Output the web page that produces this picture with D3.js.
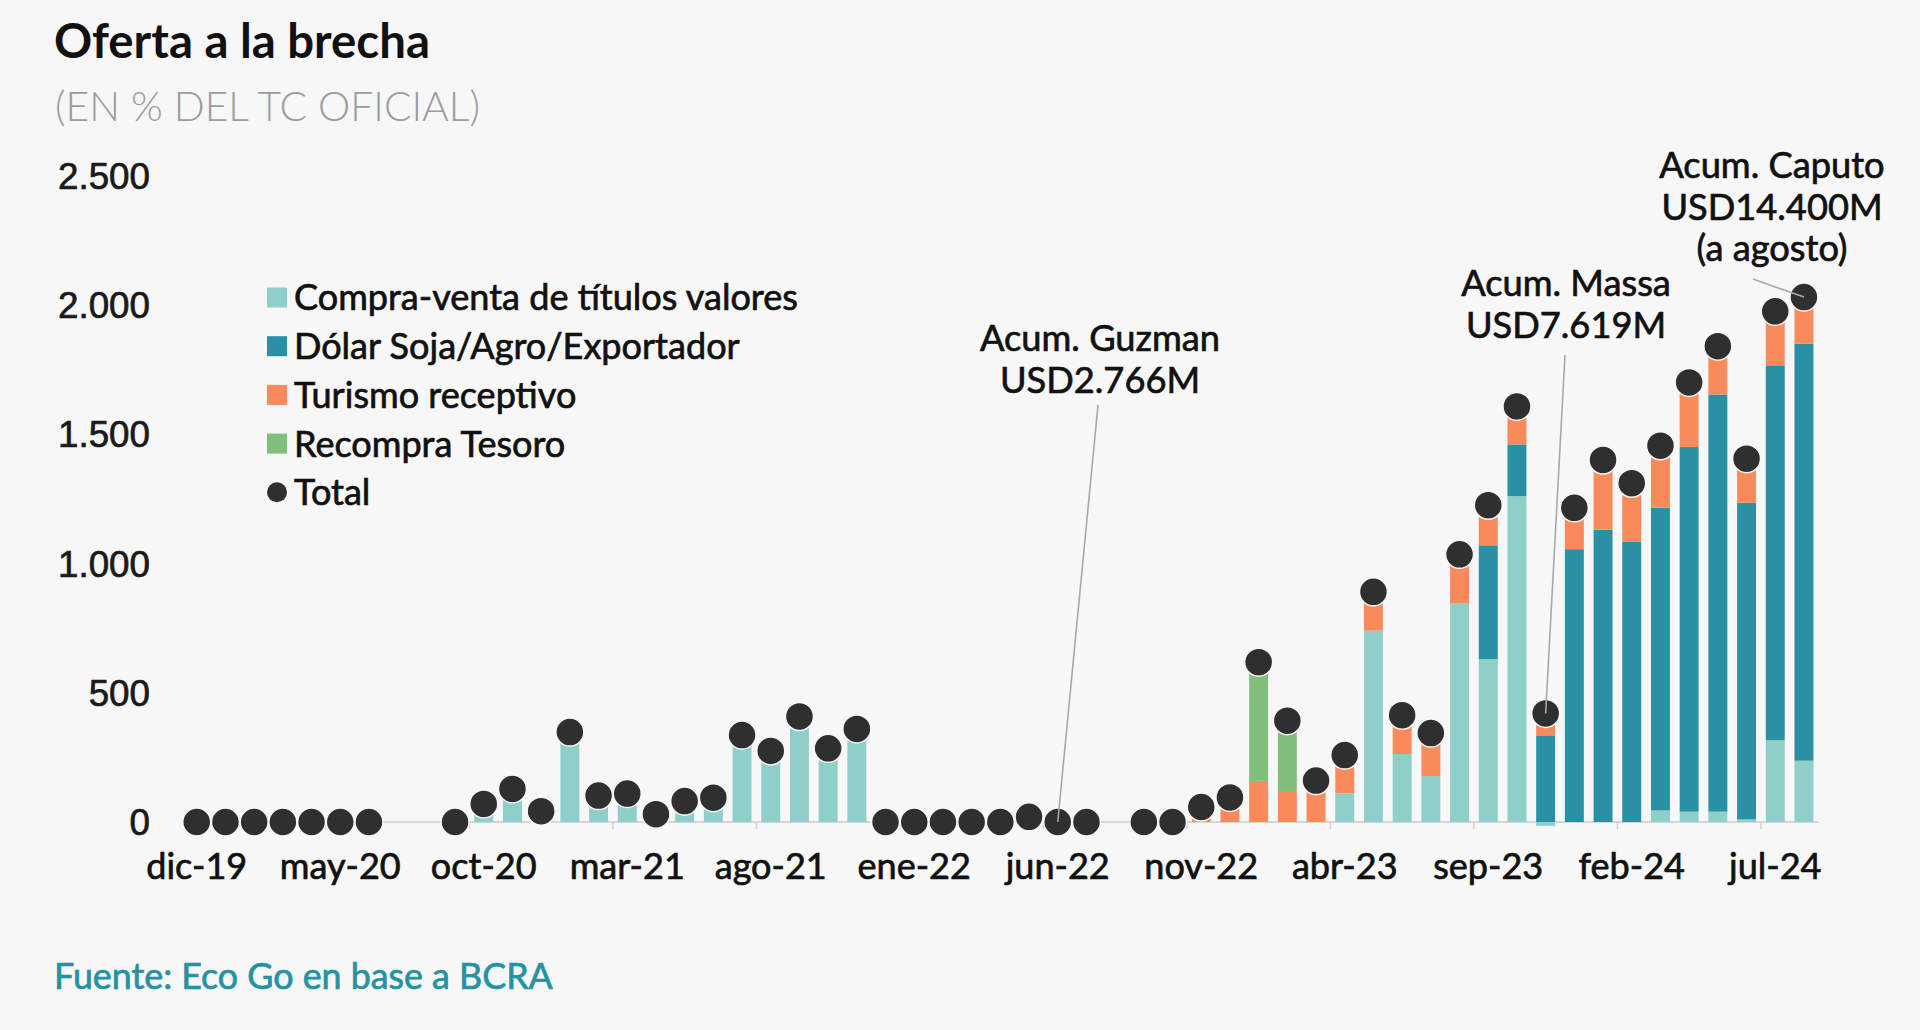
<!DOCTYPE html>
<html><head><meta charset="utf-8">
<script src="https://cdn.jsdelivr.net/npm/d3@7"></script>
<style>body{margin:0;background:#f7f7f7;} svg{display:block;font-family:Lato,"Noto Sans",sans-serif;}</style>
</head><body>
<svg id="c" width="1920" height="1030"></svg>
<script>
const months = ["dic-19","ene-20","feb-20","mar-20","abr-20","may-20","jun-20","jul-20","ago-20","sep-20",
"oct-20","nov-20","dic-20","ene-21","feb-21","mar-21","abr-21","may-21","jun-21","jul-21",
"ago-21","sep-21","oct-21","nov-21","dic-21","ene-22","feb-22","mar-22","abr-22","may-22",
"jun-22","jul-22","ago-22","sep-22","oct-22","nov-22","dic-22","ene-23","feb-23","mar-23",
"abr-23","may-23","jun-23","jul-23","ago-23","sep-23","oct-23","nov-23","dic-23","ene-24",
"feb-24","mar-24","abr-24","may-24","jun-24","jul-24","ago-24"];
const tickLabels = ["dic-19","may-20","oct-20","mar-21","ago-21","ene-22","jun-22","nov-22","abr-23","sep-23","feb-24","jul-24"];
const yTicks = [0,500,1000,1500,2000,2500];

const compra = [0,0,0,0,0,0,0,0,0,0,
70,128,42,348,102,110,30,81,94,336,
275,408,285,360,0,0,0,0,0,20,
0,0,0,0,0,0,0,0,0,0,
111,740,263,178,845,630,1260,-15,0,0,
0,45,40,40,10,316,237];
const dolar = [0,0,0,0,0,0,0,0,0,0,
0,0,0,0,0,0,0,0,0,0,
0,0,0,0,0,0,0,0,0,0,
0,0,0,0,0,0,0,0,0,0,
0,0,0,0,0,440,200,335,1055,1130,
1085,1170,1410,1613,1225,1450,1613];
const turismo = [0,0,0,0,0,0,0,0,0,0,
0,0,0,0,0,0,0,0,0,0,
0,0,0,0,0,0,0,0,0,0,
0,0,0,0,0,58,95,159,120,160,
148,150,150,166,190,155,147,95,160,270,
225,240,250,187,170,209,180];
const recompra = [0,0,0,0,0,0,0,0,0,0,
0,0,0,0,0,0,0,0,0,0,
0,0,0,0,0,0,0,0,0,0,
0,0,0,0,0,0,0,459,272,0,
0,0,0,0,0,0,0,0,0,0,
0,0,0,0,0,0,0];
const total = [0,0,0,0,0,0,0,null,null,0,
70,128,42,348,102,110,30,81,94,336,
275,408,285,360,0,0,0,0,0,20,
0,0,null,0,0,58,95,618,392,160,
259,890,413,344,1035,1225,1607,420,1215,1400,
1310,1455,1700,1840,1405,1975,2030];

const seriesNames = ["Compra-venta de títulos valores","Dólar Soja/Agro/Exportador","Turismo receptivo","Recompra Tesoro"];
const seriesColors = ["#8ecfca","#2a90a3","#f98a5b","#7fbf7b"];
const annotations = [
  {lines:["Acum. Guzman","USD2.766M"], month:"jun-22"},
  {lines:["Acum. Massa","USD7.619M"], month:"nov-23"},
  {lines:["Acum. Caputo","USD14.400M","(a agosto)"], month:"ago-24"}
];

const svg = d3.select("#c");
const W=1920,H=1030;
svg.append("rect").attr("width",W).attr("height",H).attr("fill","#f7f7f7");

const x = d3.scaleBand().domain(months).range([182.4,1818.3]).paddingInner(0.34).paddingOuter(0.17);
const y = d3.scaleLinear().domain([0,2500]).range([822,175.5]);
const cx = m => x(m)+x.bandwidth()/2;

function fit(sel,w){const n=sel.node();const fs=parseFloat(sel.attr("font-size"));const L=n.getComputedTextLength();const f=fs*w/L;sel.attr("font-size",f);return f;}
function heavy(sel,c){return sel.attr("stroke",c).attr("stroke-width",0.7).attr("paint-order","stroke");}

// Title & subtitle
const title = svg.append("text").attr("x",54).attr("y",58).attr("font-size",44).attr("font-weight",700).attr("fill","#111").text("Oferta a la brecha");
fit(title,376);
const sub = svg.append("text").attr("x",55).attr("y",121).attr("font-size",40).attr("font-weight",300).attr("fill","#9c9c9c").text("(EN % DEL TC OFICIAL)");
fit(sub,425);

// Y axis labels
const fmt = d3.formatLocale({decimal:",",thousands:".",grouping:[3],currency:["$",""]}).format(",");
const yl = svg.append("g").selectAll("text").data(yTicks).join("text")
  .attr("x",150).attr("y",d=>y(d)).attr("dy","0.36em").attr("text-anchor","end")
  .attr("font-family","'Liberation Sans',Arial,sans-serif").attr("font-size",34).attr("fill","#1a1a1a")
  .text(d=>fmt(d));
fit(d3.select(yl.nodes()[5]),92);
yl.attr("font-size",d3.select(yl.nodes()[5]).attr("font-size"));
heavy(yl,"#1a1a1a");

// baseline
svg.append("line").attr("x1",182).attr("x2",1819).attr("y1",y(0)).attr("y2",y(0)).attr("stroke","#d6d6d6").attr("stroke-width",2);
// ticks between categories every 5
const tickIdx = months.map((m,i)=>i).filter(i=>i%5===4 && i<months.length-1);
svg.append("g").selectAll("line").data(tickIdx).join("line")
  .attr("x1",i=>x(months[i])+x.step()-(x.step()-x.bandwidth())/2).attr("x2",i=>x(months[i])+x.step()-(x.step()-x.bandwidth())/2)
  .attr("y1",y(0)).attr("y2",y(0)+7).attr("stroke","#d0d0d0").attr("stroke-width",1.5);

// stacked bars
const rows = months.map((m,i)=>({m, s0:compra[i], s1:dolar[i], s2:turismo[i], s3:recompra[i]}));
const stack = d3.stack().keys(["s0","s1","s2","s3"]).offset(d3.stackOffsetDiverging);
const st = stack(rows);
svg.append("g").selectAll("g").data(st).join("g").attr("fill",(d,i)=>seriesColors[i])
  .selectAll("rect").data(d=>d.filter(p=>p[1]!==p[0])).join("rect")
  .attr("x",p=>x(p.data.m)).attr("width",x.bandwidth())
  .attr("y",p=>y(Math.max(p[0],p[1]))).attr("height",p=>Math.abs(y(p[0])-y(p[1])));

// total dots
svg.append("g").selectAll("circle").data(months.map((m,i)=>({m,v:total[i]})).filter(d=>d.v!==null)).join("circle")
  .attr("cx",d=>cx(d.m)).attr("cy",d=>y(d.v)).attr("r",14).attr("fill","#2f2f2f").attr("stroke","#f7f7f7").attr("stroke-width",1.5);

// x labels
const xl = svg.append("g").selectAll("text").data(tickLabels).join("text")
  .attr("x",d=>cx(d)).attr("y",866).attr("dy","0.35em").attr("text-anchor","middle").attr("font-size",34).attr("fill","#111").text(d=>d);
const fx = fit(d3.select(xl.nodes()[1]),121);
xl.attr("font-size",fx);
heavy(xl,"#111");

// legend
const lg = svg.append("g");
const ly0=297.5, lstep=48.7;
const lt = lg.selectAll("text").data(seriesNames.concat(["Total"])).join("text")
  .attr("x",294).attr("y",(d,i)=>ly0+i*lstep).attr("dy","0.36em").attr("font-size",32).attr("fill","#111").text(d=>d);
const fl = fit(d3.select(lt.nodes()[0]),504);
lt.attr("font-size",fl);
heavy(lt,"#111");
lg.selectAll("rect").data(seriesColors).join("rect").attr("x",267).attr("y",(d,i)=>ly0+i*lstep-10).attr("width",20).attr("height",20).attr("fill",d=>d);
lg.append("circle").attr("cx",277).attr("cy",ly0+4*lstep).attr("r",10).attr("fill","#2f2f2f");

// annotations
const annPos = [{x:1100,y:338,lx:1098,ly:405},{x:1566,y:283,lx:1565,ly:355},{x:1772,y:165,lx:1753,ly:279}];
let afs=null;
annotations.forEach((a,k)=>{
  const p=annPos[k];
  const v = total[months.indexOf(a.month)];
  svg.append("line").attr("x1",p.lx).attr("y1",p.ly).attr("x2",cx(a.month)).attr("y2",y(v)).attr("stroke","#a8a8a8").attr("stroke-width",1.6);
  const t = svg.append("g").selectAll("text").data(a.lines).join("text")
    .attr("x",p.x).attr("y",(d,i)=>p.y+i*41.5).attr("dy","0.36em").attr("text-anchor","middle").attr("font-size",34).attr("fill","#111").text(d=>d);
  if(afs===null){afs=fit(d3.select(t.nodes()[0]),240);}
  t.attr("font-size",afs);
  heavy(t,"#111");
});

// source
const src = svg.append("text").attr("x",54).attr("y",989).attr("font-size",32).attr("fill","#2592a3").text("Fuente: Eco Go en base a BCRA");
fit(src,499);
heavy(src,"#2592a3");
</script>
</body></html>
